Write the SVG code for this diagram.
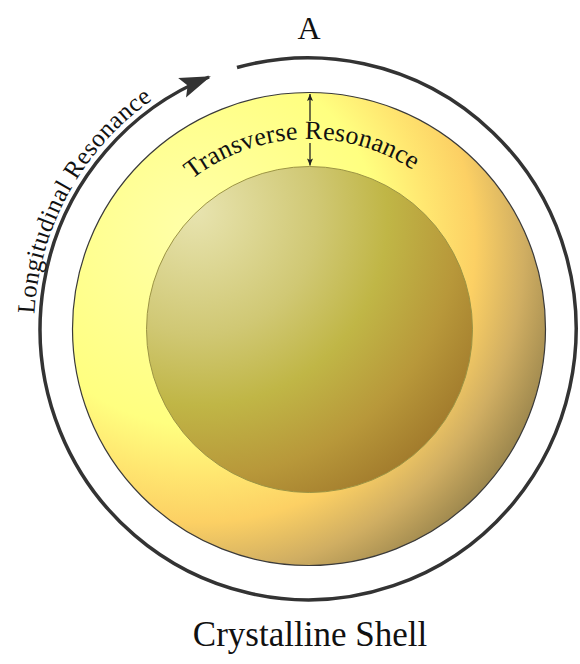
<svg xmlns="http://www.w3.org/2000/svg" width="580" height="664" viewBox="0 0 580 664">
<style>
.lbl{font-family:"Liberation Serif","Times New Roman",serif;fill:#111}
.ring{fill:none;stroke:#333;stroke-width:3.5}
.dim{stroke:#222;stroke-width:1.3;fill:none}
</style>
<defs>
<radialGradient id="gShell" gradientUnits="userSpaceOnUse" cx="200" cy="250" r="370" fx="190" fy="230">
<stop offset="0" stop-color="#FFFFA8"/>
<stop offset="0.5" stop-color="#FFFF80"/>
<stop offset="0.63" stop-color="#FFE670"/>
<stop offset="0.75" stop-color="#FCD064"/>
<stop offset="0.88" stop-color="#D0AE62"/>
<stop offset="1" stop-color="#9E884E"/>
</radialGradient>
<radialGradient id="gCore" gradientUnits="userSpaceOnUse" cx="205" cy="225" r="340" fx="195" fy="210">
<stop offset="0" stop-color="#E8E4B0"/>
<stop offset="0.35" stop-color="#D0C874"/>
<stop offset="0.55" stop-color="#C0B646"/>
<stop offset="0.75" stop-color="#B8983A"/>
<stop offset="1" stop-color="#986E26"/>
</radialGradient>
<marker id="bigArrow" markerUnits="userSpaceOnUse" viewBox="-32 -13 36 26" refX="0" refY="0" markerWidth="36" markerHeight="26" orient="auto">
<path d="M2,0 L-29,-10.5 L-23,0 L-29,10.5 Z" fill="#333"/>
</marker>
<marker id="smallArrow" markerUnits="userSpaceOnUse" viewBox="-8 -4 9 8" refX="0" refY="0" markerWidth="9" markerHeight="8" orient="auto">
<path d="M0,0 L-7,-3 L-5.5,0 L-7,3 Z" fill="#222"/>
</marker>
<path id="pLong" d="M 34.4 314 A 275 278 0 0 1 155.2 98"/>
<path id="pTrans" d="M 192 179.3 A 190 190 0 0 1 415.2 171.5"/>
</defs>

<g id="shell">
<circle cx="309" cy="329" r="236.5" fill="url(#gShell)" stroke="#3a3a3a" stroke-width="1.2"/>
</g>
<g id="core">
<circle cx="309.5" cy="329.5" r="163" fill="url(#gCore)" stroke="#9C9444" stroke-width="1"/>
</g>

<g id="connectors">
<path id="longArc" class="ring" d="M 237 67.5 A 268 271 0 1 1 209 77" marker-end="url(#bigArrow)"/>
<line class="dim" x1="310" y1="121" x2="310" y2="94" marker-end="url(#smallArrow)"/>
<line class="dim" x1="310" y1="143" x2="310" y2="165.5" marker-end="url(#smallArrow)"/>
</g>

<g id="labels">
<text id="labelA" class="lbl" x="309" y="39" font-size="32" text-anchor="middle">A</text>
<text id="labelLong" class="lbl" font-size="25"><textPath href="#pLong" textLength="253" lengthAdjust="spacing">Longitudinal Resonance</textPath></text>
<text id="labelTrans" class="lbl" font-size="26" fill="#222"><textPath href="#pTrans" textLength="236" lengthAdjust="spacing">Transverse Resonance</textPath></text>
<text id="labelShell" class="lbl" x="310" y="646" font-size="35" text-anchor="middle">Crystalline Shell</text>
</g>
</svg>
